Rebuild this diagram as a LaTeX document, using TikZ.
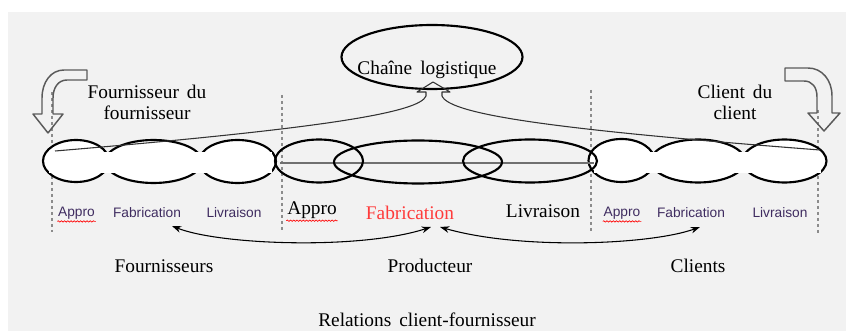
\documentclass[tikz,border=0pt]{standalone}
\usepackage{fontspec}
\setmainfont{Liberation Serif}
\setsansfont{Liberation Sans}
\usetikzlibrary{shapes.geometric,arrows.meta,decorations.pathmorphing}
\definecolor{bggray}{HTML}{F2F2F2}
\definecolor{labelpurple}{HTML}{3F2C60}
\definecolor{fabred}{HTML}{FF3B3B}
\definecolor{guidegray}{HTML}{8C8C8C}
\definecolor{blockgray}{HTML}{5A5A5A}
\definecolor{axisgray}{HTML}{707070}
\begin{document}
\begin{tikzpicture}[x=0.75pt,y=-0.75pt,
  link/.style={ellipse, draw=black, line width=1.6pt, inner sep=0pt},
  sanslabel/.style={font=\sffamily\fontsize{10.3}{12}\selectfont, text=labelpurple, inner sep=0.5pt},
  seriflabel/.style={font=\fontsize{14.5}{16}\selectfont, inner sep=0.5pt},
  guide/.style={draw=guidegray, dash pattern=on 2.5pt off 2pt, line width=0.8pt},
  bentarrow/.style={draw=blockgray, line width=1.1pt, line join=round},
  feed/.style={draw=black!80, line width=0.8pt, line join=round},
  spell/.style={draw=red, decorate, decoration={snake, amplitude=0.5pt, segment length=2.4pt}, line width=0.5pt},
  pairarrow/.style={draw=black, line width=0.8pt, {Stealth[length=7pt,width=5pt]}-{Stealth[length=7pt,width=5pt]}},
  band/.style={fill=white, draw=none}]
\useasboundingbox (0,0) rectangle (846,331);
\fill[white] (0,0) rectangle (846,331);
\fill[bggray] (8,12) rectangle (846,331);

% dashed boundaries between the three actors
\draw[guide] (52,92) -- (52,232);
\draw[guide] (282,95) -- (282,232);
\draw[guide] (591,90) -- (591,232);
\draw[guide] (818,110) -- (818,234);

% supplier chain
\node[link, fill=white, minimum width=49.5pt, minimum height=31.5pt] (lA) at (76,161) {};
\node[link, fill=white, minimum width=72.75pt, minimum height=32.25pt] (lF) at (153.5,161.5) {};
\node[link, fill=white, minimum width=57.75pt, minimum height=32.25pt] (lL) at (237.5,161.5) {};
\fill[band] (49,152) rectangle (272,173);

% client chain
\node[link, fill=white, minimum width=49.5pt, minimum height=32.25pt] (rA) at (621.5,160.5) {};
\node[link, fill=white, minimum width=70.5pt, minimum height=32.25pt] (rF) at (698,161) {};
\node[link, fill=white, minimum width=63pt, minimum height=32.25pt] (rL) at (784.5,161) {};
\fill[band] (594,152) rectangle (821,173);

% producer chain
\coordinate (axisW) at (280,163);
\coordinate (axisE) at (594,163);
\draw[axisgray, line width=1.2pt] (axisW) -- (axisE);
\node[link, minimum width=66pt, minimum height=32.25pt] (mA) at (319,161) {};
\node[link, minimum width=126pt, minimum height=32.25pt] (mF) at (418,162) {};
\node[link, minimum width=100.5pt, minimum height=32.25pt] (mL) at (530,161) {};

% logistics chain bubble and its feeding arrow
\node[ellipse, draw=black, line width=1.6pt, minimum width=135.75pt, minimum height=48pt] (chain) at (432,57) {};
\node[seriflabel] (chainText) at (427,70) {Chaîne\, logistique};
\coordinate (feedL) at (55,151);
\coordinate (feedR) at (820,150);
\draw[feed] (feedL) .. controls (330,128) and (420,112) .. (426,96)
  -- (426,92) -- (417,92) -- (433,82) -- (450,92) -- (442,92) -- (442,96)
  .. controls (450,115) and (560,130) .. (feedR);

% bent hollow arrows
\draw[bentarrow] (87,70) -- (64,70) .. controls (51,70) and (42,82) .. (42,98)
  -- (42,114) -- (33,114) -- (48,133) -- (63,114) -- (53,114) -- (53,98)
  .. controls (53,88) and (58,80) .. (67,80) -- (87,80) -- cycle;
\draw[bentarrow] (785,68) -- (808,68) .. controls (822,68) and (832,80) .. (832,96)
  -- (832,113) -- (840,113) -- (824,131) -- (808,113) -- (817,113) -- (817,97)
  .. controls (817,87) and (812,81) .. (804,81) -- (785,81) -- cycle;

% actor titles
\node[seriflabel, align=center] (supsup) at (147,102.5) {Fournisseur\, du\\fournisseur};
\node[seriflabel, align=center] (cliCli) at (735,102.5) {Client\, du\\client};

% step labels
\node[sanslabel] (lAp) at (76.5,213) {Appro};
\node[sanslabel] (lFab) at (147,213) {Fabrication};
\node[sanslabel] (lLiv) at (234,213) {Livraison};
\node[sanslabel] (rAp) at (622,213) {Appro};
\node[sanslabel] (rFab) at (691,213) {Fabrication};
\node[sanslabel] (rLiv) at (780,213) {Livraison};
\node[seriflabel] (mAp) at (312,210) {Appro};
\node[seriflabel, text=fabred] (mFab) at (410,213) {Fabrication};
\node[seriflabel] (mLiv) at (543,211) {Livraison};
\draw[spell] ([yshift=-1pt]lAp.south west) -- ([yshift=-1pt]lAp.south east);
\draw[spell] ([yshift=-1pt]rAp.south west) -- ([yshift=-1pt]rAp.south east);
\draw[spell] ([yshift=-1pt]mAp.south west) -- ([yshift=-1pt]mAp.south east);

% client-supplier relations
\coordinate (relLa) at (431,227);
\coordinate (relLb) at (172,226);
\coordinate (relRa) at (440,227);
\coordinate (relRb) at (700,227);
\draw[pairarrow] (relLa) .. controls (360,250) and (220,245) .. (relLb);
\draw[pairarrow] (relRa) .. controls (520,250) and (650,245) .. (relRb);

\node[seriflabel] (fourn) at (164,266) {Fournisseurs};
\node[seriflabel] (prod) at (430,266) {Producteur};
\node[seriflabel] (clients) at (698,266) {Clients};
\node[seriflabel] (relations) at (427,320) {Relations\, client-fournisseur};
\end{tikzpicture}
\end{document}
